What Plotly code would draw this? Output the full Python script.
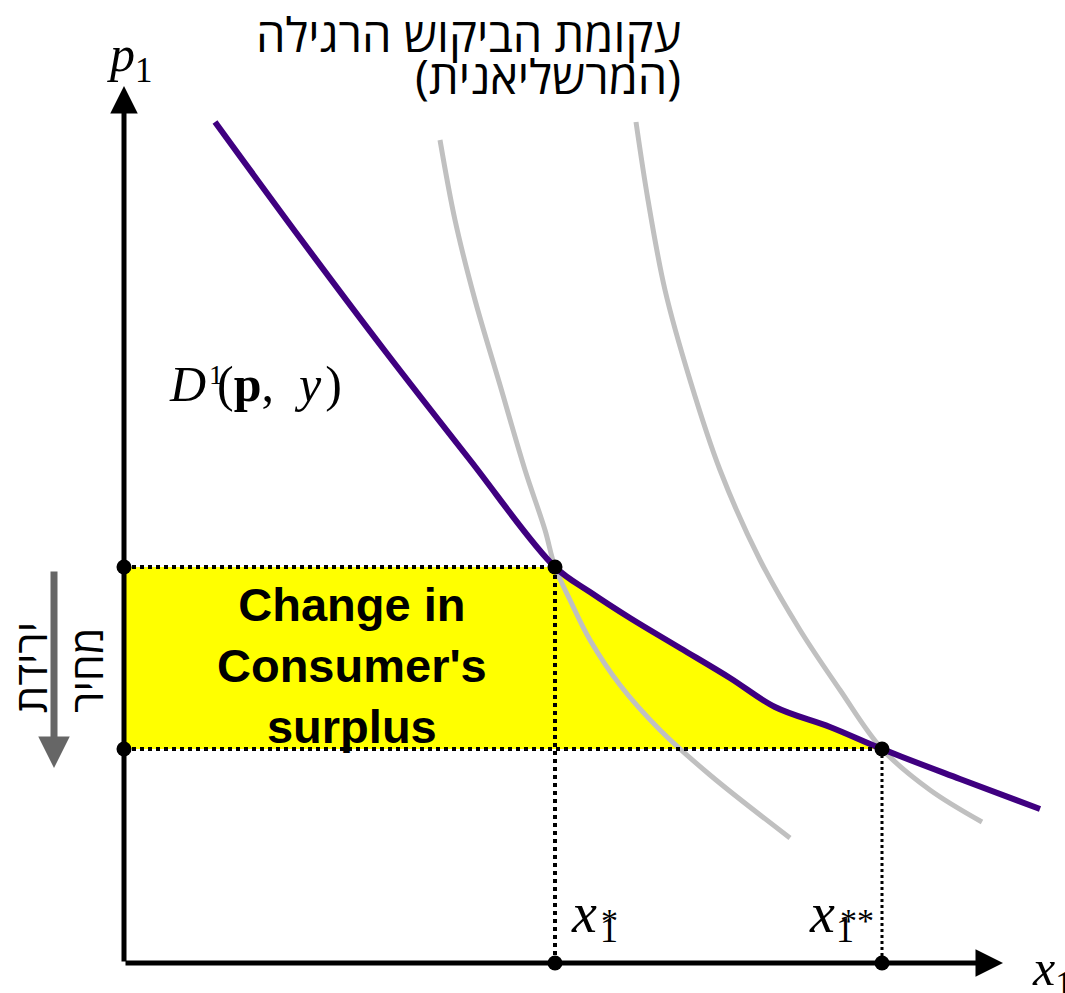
import plotly.graph_objects as go

# Marshallian (ordinary) demand D1(p, y): quantity x1 vs. price p1
demand_q = [91, 176, 261, 346, 431, 466, 506, 556, 606, 651, 706, 758, 836, 916]
demand_p = [841, 725, 612, 503, 396, 371, 345, 315, 285, 256, 236, 214, 184, 154]

# Compensated demand curves passing through the old and the new choice
hicks1_q = [316, 331, 351, 376, 401, 421, 431, 446, 466, 496, 536, 586, 666]
hicks1_p = [823, 743, 663, 578, 493, 433, 396, 363, 323, 278, 233, 188, 125]
hicks2_q = [512, 524, 541, 566, 596, 636, 676, 716, 758, 806, 858]
hicks2_p = [841, 763, 673, 583, 493, 403, 333, 273, 214, 173, 141]

# Price before / after the fall and the quantities chosen at each price
p_high, p_low = 396, 214
x_star, x_star2 = 431, 758

# Axis extents (origin at the corner of the axes)
q_max, p_max = 879, 877

PURPLE = "#3f0080"
GRAY = "#c0c0c0"
SERIF = "Liberation Serif, Times New Roman, serif"
SANS = "Liberation Sans, Arial, sans-serif"
HEB = "Open Sans, DejaVu Sans, sans-serif"

fig = go.Figure()

# Consumer's surplus gain: the area left of the demand curve between the two prices
seg = [(q, p) for q, p in zip(demand_q, demand_p) if x_star <= q <= x_star2]
fill_x = [0, x_star] + [q for q, _ in seg] + [x_star2, 0]
fill_y = [p_high, p_high] + [p for _, p in seg] + [p_low, p_low]
fig.add_trace(go.Scatter(x=fill_x, y=fill_y, fill="toself", fillcolor="#ffff00",
                         mode="lines", line=dict(width=0, shape="spline", color="#ffff00"),
                         hoverinfo="skip"))

# Compensated demand curves
for hq, hp in [(hicks1_q, hicks1_p), (hicks2_q, hicks2_p)]:
    fig.add_trace(go.Scatter(x=hq, y=hp, mode="lines",
                             line=dict(color=GRAY, width=5, shape="spline")))

# Ordinary demand curve
fig.add_trace(go.Scatter(x=demand_q, y=demand_p, mode="lines",
                         line=dict(color=PURPLE, width=6, shape="spline")))

# Dotted guide lines from the two choices to the axes
fig.add_trace(go.Scatter(x=[0, x_star], y=[p_high, p_high], mode="lines",
                         line=dict(color="black", width=4, dash="dot")))
fig.add_trace(go.Scatter(x=[0, x_star2], y=[p_low, p_low], mode="lines",
                         line=dict(color="black", width=4, dash="dot")))
fig.add_trace(go.Scatter(x=[x_star, x_star], y=[p_high, 0], mode="lines",
                         line=dict(color="black", width=4, dash="dot")))
fig.add_trace(go.Scatter(x=[x_star2, x_star2], y=[p_low, 0], mode="lines",
                         line=dict(color="black", width=3, dash="dot")))

# Marked points on the curve and on the axes
fig.add_trace(go.Scatter(x=[0, 0, x_star, x_star2, x_star, x_star2],
                         y=[p_high, p_low, p_high, p_low, 0, 0],
                         mode="markers", marker=dict(color="black", size=15)))

annotations = []

# Axes drawn as arrows
annotations.append(dict(x=0, y=p_max, ax=0, ay=0, xref="x", yref="y", axref="x", ayref="y",
                        showarrow=True, arrowhead=2, arrowsize=1.1, arrowwidth=5,
                        arrowcolor="black", text=""))
annotations.append(dict(x=q_max, y=0, ax=0, ay=0, xref="x", yref="y", axref="x", ayref="y",
                        showarrow=True, arrowhead=2, arrowsize=1.1, arrowwidth=5,
                        arrowcolor="black", text=""))

# Price-fall arrow beside the price axis
annotations.append(dict(x=-70, y=195, ax=-70, ay=393, xref="x", yref="y", axref="x", ayref="y",
                        showarrow=True, arrowhead=2, arrowsize=0.9, arrowwidth=7,
                        arrowcolor="#666666", text=""))
annotations.append(dict(x=-66, y=295, xref="x", yref="y", text="ירידת<br>מחיר",
                        textangle=-90, showarrow=False, align="left",
                        font=dict(family=HEB, size=43, color="black")))

# Axis labels
annotations.append(dict(x=6, y=905, xref="x", yref="y", text="<i>p</i><sub>1</sub>",
                        showarrow=False, font=dict(family=SERIF, size=50, color="black")))
annotations.append(dict(x=906, y=-9, xref="x", yref="y", xanchor="left",
                        text="<i>x</i><sub>1</sub>", showarrow=False,
                        font=dict(family=SERIF, size=50, color="black")))

# Quantity labels x1* and x1** (star set above the subscript)
annotations.append(dict(x=460, y=50, xref="x", yref="y", text="<i>x</i>", showarrow=False,
                        font=dict(family=SERIF, size=56, color="black")))
annotations.append(dict(x=485, y=33, xref="x", yref="y", text="1", showarrow=False,
                        font=dict(family=SERIF, size=36, color="black")))
annotations.append(dict(x=485, y=43, xref="x", yref="y", text="*", showarrow=False,
                        font=dict(family=SERIF, size=34, color="black")))
annotations.append(dict(x=698, y=50, xref="x", yref="y", text="<i>x</i>", showarrow=False,
                        font=dict(family=SERIF, size=56, color="black")))
annotations.append(dict(x=721, y=33, xref="x", yref="y", text="1", showarrow=False,
                        font=dict(family=SERIF, size=36, color="black")))
annotations.append(dict(x=733, y=43, xref="x", yref="y", text="**", showarrow=False,
                        font=dict(family=SERIF, size=34, color="black")))

# Demand curve label
annotations.append(dict(x=43, y=579, xref="x", yref="y", xanchor="left",
                        text="<i>D</i>", showarrow=False,
                        font=dict(family=SERIF, size=50, color="black")))
annotations.append(dict(x=83, y=589, xref="x", yref="y", xanchor="left",
                        text="1", showarrow=False,
                        font=dict(family=SERIF, size=28, color="black")))
annotations.append(dict(x=91, y=579, xref="x", yref="y", xanchor="left",
                        text="(<b>p</b>,\u00a0\u00a0<i>y</i>\u200a)", showarrow=False,
                        font=dict(family=SERIF, size=50, color="black")))

# Area label
annotations.append(dict(x=228, y=298, xref="x", yref="y",
                        text="<b>Change in<br>Consumer's<br>surplus</b>", showarrow=False,
                        font=dict(family=SANS, size=47, color="black")))

# Heading for the ordinary demand curve
annotations.append(dict(x=559, y=963, xref="x", yref="y", xanchor="right", yanchor="top",
                        text="עקומת הביקוש הרגילה", showarrow=False,
                        font=dict(family=HEB, size=47, color="black")))
annotations.append(dict(x=559, y=887, xref="x", yref="y", xanchor="right",
                        text="(המרשליאנית)", showarrow=False,
                        font=dict(family=HEB, size=47, color="black")))

fig.update_layout(
    width=1065, height=993,
    margin=dict(l=0, r=0, t=0, b=0),
    paper_bgcolor="white", plot_bgcolor="white",
    showlegend=False,
    xaxis=dict(range=[-124, 941], visible=False, fixedrange=True),
    yaxis=dict(range=[-30, 963], visible=False, fixedrange=True),
    annotations=annotations,
)

fig.write_html("out.html")
